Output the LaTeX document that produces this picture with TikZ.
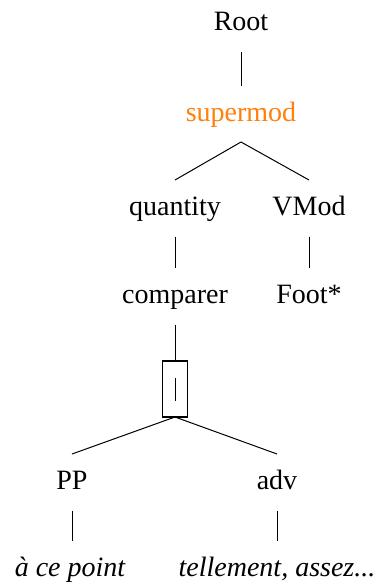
\documentclass[tikz,border=0pt]{standalone}
\usepackage{fontspec}
\setmainfont{Liberation Serif}
\definecolor{supercol}{RGB}{255,128,10}
\begin{document}
\begin{tikzpicture}[x=0.5pt,y=-0.5pt,
  lab/.style={anchor=base,inner sep=0pt,text height=9.25pt,text depth=2pt,outer ysep=8.5pt,outer xsep=0pt,font=\fontsize{14}{16.8}\selectfont},
  edge/.style={draw=black,line width=0.5pt},
  footbox/.style={draw=black,line width=0.6pt,minimum width=12.5pt,minimum height=28pt,inner sep=0pt,outer sep=0pt}]
\useasboundingbox (0,0) rectangle (378,585);
\node[lab] (root) at (241,30.5) {Root};
\node[lab,text=supercol] (sup) at (241,121) {supermod};
\node[lab] (qty) at (175,215.5) {quantity};
\node[lab] (vmod) at (309,215.5) {VMod};
\node[lab] (cmp) at (175,303.5) {comparer};
\node[lab] (foot) at (309,303.5) {Foot*};
\node[footbox] (box) at (175,389) {\rule{0.5pt}{11.5pt}};
\node[lab] (pp) at (72,489.5) {PP};
\node[lab] (adv) at (277,489.5) {adv};
\node[lab] (apt) at (70,576) {\itshape à ce point};
\node[lab] (tel) at (277,576) {\itshape tellement, assez...};
\draw[edge] (root.south) -- (sup.north);
\draw[edge] (sup.south) -- (qty.north);
\draw[edge] (sup.south) -- (vmod.north);
\draw[edge] (qty.south) -- (cmp.north);
\draw[edge] (vmod.south) -- (foot.north);
\draw[edge] (cmp.south) -- (box.north);
\draw[edge] (box.south) -- (pp.north);
\draw[edge] (box.south) -- (adv.north);
\draw[edge] (pp.south) -- (pp.south |- apt.north);
\draw[edge] (adv.south) -- (adv.south |- tel.north);
\end{tikzpicture}
\end{document}
